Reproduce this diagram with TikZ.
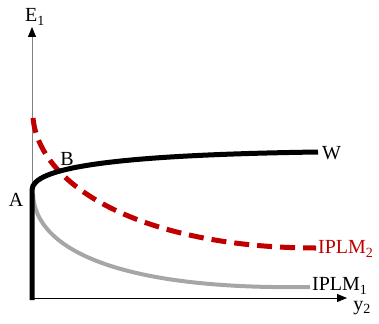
\documentclass[tikz,border=0pt]{standalone}
\usepackage{fontspec}
\setmainfont{Liberation Serif}
\usetikzlibrary{arrows.meta}
\definecolor{darkred}{HTML}{C00000}
\definecolor{lgray}{HTML}{A6A6A6}
\begin{document}
\begin{tikzpicture}[x=1pt,y=-1pt,
  lbl/.style={font=\fontsize{20}{22}\selectfont, inner sep=0pt},
  axis/.style={line width=1pt,-{Triangle[length=10pt,width=8pt,color=black]}},
  wcurve/.style={line width=5pt, black},
  redcurve/.style={line width=5pt, darkred, dash pattern=on 15pt off 8pt},
  graycurve/.style={line width=4pt, lgray}]
\useasboundingbox (0,0) rectangle (379,323);
% origin and axes
\coordinate (O) at (32,298);
\coordinate (ytip) at (32,27);
\coordinate (xtip) at (347,298);
\draw[axis, draw=gray] (O) -- (ytip);
\draw[axis] (O) -- (xtip);
\node[lbl] (E1) at (35,17) {E\textsubscript{1}};
\node[lbl] (y2) at (362,308) {y\textsubscript{2}};
% curves
\coordinate (A) at (32,190);
\coordinate (Wend) at (318,152);
\coordinate (Rstart) at (33,118);
\coordinate (Rend) at (316,248);
\coordinate (Gstart) at (33,194);
\coordinate (Gend) at (310,287);
\draw[graycurve] (Gstart) .. controls (35,250) and (120,290) .. (Gend);
\draw[redcurve] (Rstart) .. controls (40,190) and (150,248) .. (Rend);
\draw[wcurve] (32,300) -- (A) .. controls (32,168) and (110,155) .. (Wend);
% labels
\node[lbl] (Alab) at (16,200) {A};
\node[lbl] (Blab) at (67,159) {B};
\node[lbl, anchor=west] (Wlab) at (322,153) {W};
\node[lbl, anchor=west, text=darkred] (I2) at (318,249) {IPLM\textsubscript{2}};
\node[lbl, anchor=west] (I1) at (312,286) {IPLM\textsubscript{1}};
\end{tikzpicture}
\end{document}
